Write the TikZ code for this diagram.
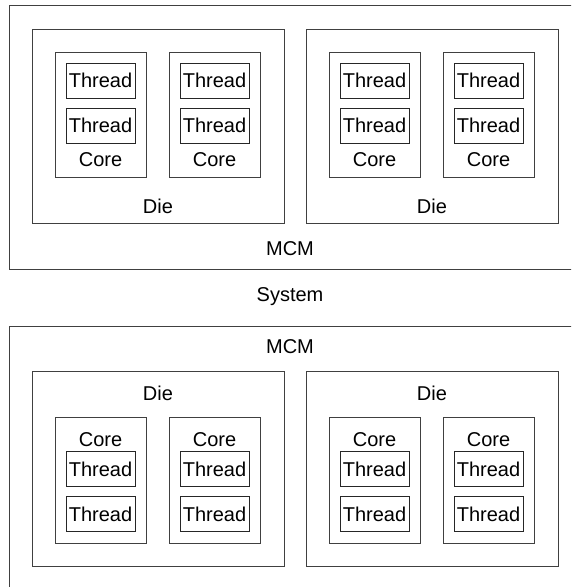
\documentclass[tikz,border=0pt]{standalone}
\usepackage{fontspec}
\setmainfont{Liberation Sans}
\tikzset{
  frame/.style={draw=black!75, line width=1pt},
  thread/.style={draw=black!85, line width=1pt, minimum width=69pt, minimum height=35pt, inner sep=0pt, font=\fontsize{20}{24}\selectfont},
  tag/.style={inner sep=0pt, font=\fontsize{20}{24}\selectfont}
}
\begin{document}
\begin{tikzpicture}[x=1pt, y=-1pt]
  \useasboundingbox (0,0) rectangle (571,587);
  \begin{scope}
    \clip (0,0) rectangle (571,587);
    % MCM with labels below
    \draw[frame] (9,5) rectangle (581,269);
    \node[tag] (mcmA) at (290,249) {MCM};
    \foreach \d/\dx in {1/32, 2/306} {
      \draw[frame] (\dx,29) rectangle ++(252,194);
      \node[tag] (dieA\d) at (\dx+126,206) {Die};
      \foreach \c/\cx in {1/23, 2/137} {
        \draw[frame] (\dx+\cx,52) rectangle ++(91,125);
        \node[tag] (coreA\d\c) at (\dx+\cx+45.5,160) {Core};
        \node[thread] (thrA\d\c-1) at (\dx+\cx+45.5,80.5) {Thread};
        \node[thread] (thrA\d\c-2) at (\dx+\cx+45.5,125.5) {Thread};
      }
    }
    \node[tag] (system) at (290,297) {System};
    % MCM with labels above
    \draw[frame] (9,326) rectangle (581,610);
    \node[tag] (mcmB) at (290,347) {MCM};
    \foreach \d/\dx in {1/32, 2/306} {
      \draw[frame] (\dx,371) rectangle ++(252,195);
      \node[tag] (dieB\d) at (\dx+126,393.5) {Die};
      \foreach \c/\cx in {1/23, 2/137} {
        \draw[frame] (\dx+\cx,417) rectangle ++(91,126);
        \node[tag] (coreB\d\c) at (\dx+\cx+45.5,439.5) {Core};
        \node[thread] (thrB\d\c-1) at (\dx+\cx+45.5,469) {Thread};
        \node[thread] (thrB\d\c-2) at (\dx+\cx+45.5,514) {Thread};
      }
    }
  \end{scope}
\end{tikzpicture}
\end{document}
